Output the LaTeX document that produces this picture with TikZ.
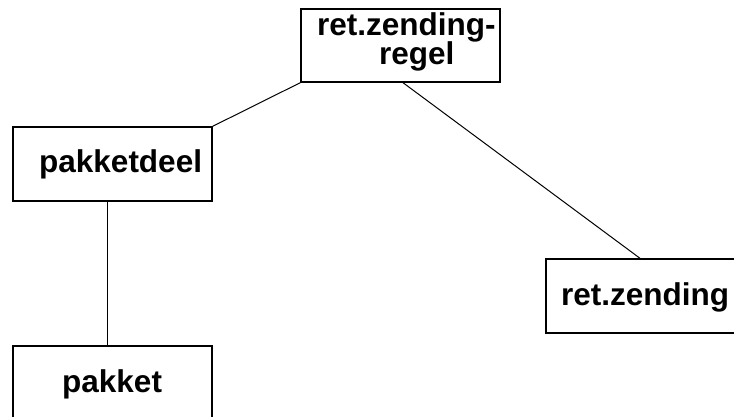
\documentclass[tikz,border=0pt]{standalone}
\usepackage{fontspec}
\setmainfont{Liberation Sans}
\begin{document}
\begin{tikzpicture}[x=1pt,y=-1pt,
  box/.style={draw=black,line width=1.4pt,rectangle,inner sep=0pt,minimum width=199pt,minimum height=#1},
  box/.default=74pt,
  lbl/.style={anchor=base west,inner sep=0pt,font=\fontsize{31.5}{31.5}\selectfont\bfseries},
  conn/.style={draw=black,line width=1pt}]
\clip (0,0) rectangle (734,417);
\fill[white] (0,0) rectangle (734,417);
\node[box=73pt] (rg) at (400.5,45.5) {};
\node[box] (pd) at (112.5,164) {};
\node[box] (rz) at (645.5,296) {};
\node[box] (pk) at (112.5,383) {};
\node[lbl] (rgt1) at (317,35.5) {ret.zending-};
\node[lbl] (rgt2) at (379,65) {regel};
\node[lbl] (pdt) at (39,172) {pakketdeel};
\node[lbl] (rzt) at (561,305) {ret.zending};
\node[lbl] (pkt) at (62,392) {pakket};
\draw[conn] (rg.south west) -- (pd.north east);
\draw[conn] ([xshift=2.5pt]rg.south) -- ([xshift=-5.5pt]rz.north);
\draw[conn] ([xshift=-5.5pt]pd.south) -- ([xshift=-5.5pt]pk.north);
\end{tikzpicture}
\end{document}
